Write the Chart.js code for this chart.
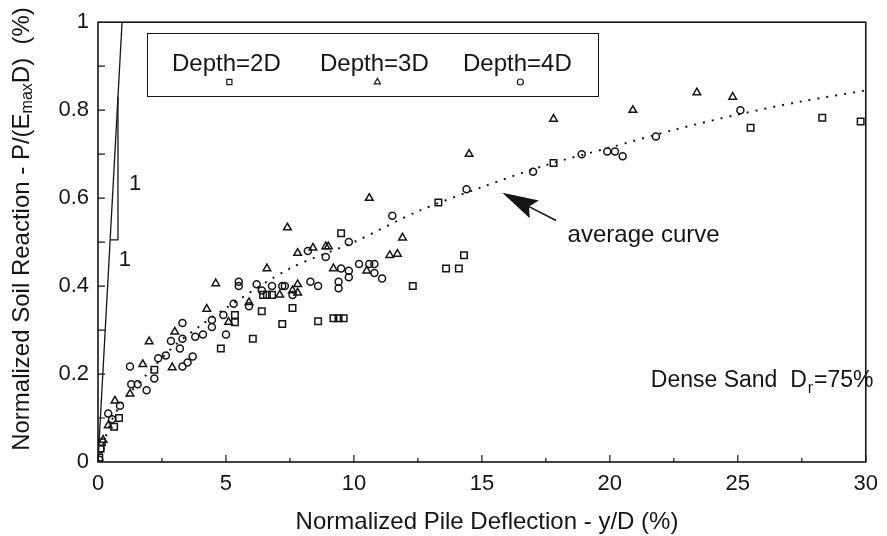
<!DOCTYPE html>
<html>
<head>
<meta charset="utf-8">
<script src="https://cdn.jsdelivr.net/npm/chart.js@4.4.0/dist/chart.umd.min.js"></script>
<style>
  body { margin: 0; background: #fff; }
  #wrap { width: 887px; height: 536px; }
</style>
</head>
<body>
<div id="wrap"><canvas id="soilChart"></canvas></div>
<script>
// tick labels
const xTicks = [0, 5, 10, 15, 20, 25, 30];
const yTicks = [0, 0.2, 0.4, 0.6, 0.8, 1];

// measured points, [y/D %, P/(Emax D) %]
const depth2D = [
  [0.05, 0.01], [0.1, 0.03], [0.15, 0.045], [0.63, 0.08], [0.82, 0.10], [2.2, 0.21],
  [4.8, 0.258], [5.35, 0.318], [5.35, 0.334], [6.05, 0.28], [6.45, 0.38], [6.6, 0.38],
  [6.8, 0.38], [6.4, 0.343], [7.2, 0.314], [7.6, 0.35], [8.6, 0.32], [9.2, 0.327],
  [9.4, 0.327], [9.6, 0.327], [9.5, 0.52], [12.3, 0.40], [13.6, 0.44], [14.1, 0.44],
  [14.3, 0.47], [13.3, 0.59], [17.8, 0.68], [25.5, 0.76], [28.3, 0.783], [29.8, 0.774]
];
const depth3D = [
  [0.2, 0.05], [0.4, 0.083], [0.66, 0.139], [1.25, 0.155], [1.75, 0.222], [2.0, 0.274],
  [2.9, 0.215], [3.0, 0.296], [4.25, 0.348], [4.6, 0.406], [5.1, 0.318], [5.9, 0.363],
  [6.6, 0.44], [7.1, 0.38], [7.4, 0.533], [7.6, 0.39], [7.8, 0.385], [7.8, 0.404],
  [7.8, 0.475], [8.4, 0.487], [8.9, 0.49], [9.0, 0.49], [9.2, 0.44], [10.5, 0.435],
  [10.6, 0.60], [11.4, 0.47], [11.7, 0.473], [11.9, 0.51], [14.5, 0.70], [17.8, 0.78],
  [20.9, 0.80], [23.4, 0.84], [24.8, 0.83]
];
const depth4D = [
  [0.05, 0.005], [0.1, 0.03], [0.4, 0.11], [0.55, 0.097], [0.86, 0.128], [1.25, 0.217],
  [1.3, 0.177], [1.55, 0.177], [1.9, 0.163], [2.2, 0.19], [2.35, 0.236], [2.65, 0.242],
  [2.85, 0.275], [3.2, 0.258], [3.3, 0.28], [3.3, 0.316], [3.3, 0.217], [3.5, 0.226],
  [3.7, 0.24], [3.8, 0.285], [4.1, 0.29], [4.45, 0.307], [4.45, 0.323], [4.9, 0.334],
  [5.0, 0.29], [5.3, 0.36], [5.5, 0.40], [5.5, 0.41], [5.9, 0.354], [6.2, 0.404],
  [6.4, 0.39], [6.8, 0.40], [7.2, 0.40], [7.3, 0.40], [7.6, 0.38], [8.2, 0.48],
  [8.3, 0.41], [8.6, 0.40], [8.9, 0.466], [9.4, 0.395], [9.4, 0.41], [9.5, 0.44],
  [9.8, 0.42], [9.8, 0.435], [9.8, 0.50], [10.2, 0.45], [10.6, 0.45], [10.8, 0.43],
  [10.8, 0.45], [11.1, 0.417], [11.5, 0.56], [14.4, 0.62], [17.0, 0.66], [18.9, 0.70],
  [19.9, 0.706], [20.2, 0.706], [20.5, 0.695], [21.8, 0.74], [25.1, 0.80]
];
const averageCurve = [
  [0, 0], [0.5, 0.09], [1, 0.14], [2, 0.205], [3, 0.265], [4, 0.31], [5, 0.35],
  [7.5, 0.44], [10, 0.50], [12.5, 0.57], [15, 0.625], [17.5, 0.675], [20, 0.715],
  [22.5, 0.755], [25, 0.79], [27.5, 0.82], [30, 0.845]
];
// initial stiffness line and its slope triangle
const slopeLine = [[0, 0], [0.94, 1]];
const slopeTriangle = [[0.475, 0.505], [0.78, 0.505], [0.78, 0.83]];

const FONT = '"Liberation Sans", Arial, Helvetica, sans-serif';
const INK = '#151515';

const toPoints = pairs => pairs.map(([x, y]) => ({ x, y }));

function drawRich(ctx, parts, cx, cy, angle) {
  let total = 0;
  parts.forEach(p => {
    ctx.font = p.size + 'px ' + FONT;
    p.w = ctx.measureText(p.t).width;
    total += p.w;
  });
  ctx.save();
  ctx.translate(cx, cy);
  ctx.rotate(angle || 0);
  ctx.textAlign = 'left';
  ctx.textBaseline = 'middle';
  let x = -total / 2;
  parts.forEach(p => {
    ctx.font = p.size + 'px ' + FONT;
    ctx.fillText(p.t, x, p.dy || 0);
    x += p.w;
  });
  ctx.restore();
}

const decorations = {
  id: 'decorations',
  afterDatasetsDraw(chart) {
    const { ctx, chartArea: a, scales: { x, y } } = chart;
    ctx.save();
    ctx.strokeStyle = INK;
    ctx.fillStyle = INK;

    // frame
    ctx.lineWidth = 1.6;
    ctx.strokeRect(a.left, a.top, a.right - a.left, a.bottom - a.top);

    // inward ticks
    ctx.lineWidth = 1.2;
    ctx.beginPath();
    for (let v = 0; v <= 30; v += 2.5) {
      const px = x.getPixelForValue(v);
      const len = v % 5 === 0 ? 7 : 4;
      ctx.moveTo(px, a.bottom);
      ctx.lineTo(px, a.bottom - len);
    }
    for (let i = 1; i < 10; i++) {
      const py = y.getPixelForValue(i / 10);
      ctx.moveTo(a.left, py);
      ctx.lineTo(a.left + 7, py);
    }
    ctx.stroke();

    // axis titles
    drawRich(ctx, [{ t: 'Normalized Pile Deflection - y/D (%)', size: 24 }], 487, 522, 0);
    drawRich(ctx, [
      { t: 'Normalized Soil Reaction - P/(E', size: 24 },
      { t: 'max', size: 16, dy: 6 },
      { t: 'D)  (%)', size: 24 }
    ], 22, 229, -Math.PI / 2);

    // legend box
    ctx.lineWidth = 1;
    ctx.strokeRect(147.5, 33.5, 451, 63);
    ctx.textBaseline = 'alphabetic';
    ctx.textAlign = 'left';
    const items = [
      { label: 'Depth=2D', left: 172, style: 'rect', r: 3.6 },
      { label: 'Depth=3D', left: 320, style: 'triangle', r: 3.6 },
      { label: 'Depth=4D', left: 463, style: 'circle', r: 3 }
    ];
    items.forEach(it => {
      ctx.fillStyle = INK;
      ctx.font = '24px ' + FONT;
      ctx.fillText(it.label, it.left, 71);
      const mx = it.left + ctx.measureText('Dept').width + ctx.measureText('h').width / 2;
      ctx.fillStyle = 'rgba(0,0,0,0)';
      ctx.lineWidth = 1.2;
      Chart.helpers.drawPoint(ctx, { pointStyle: it.style, radius: it.r, borderWidth: 1.2, rotation: 0 }, mx, 82);
    });
    ctx.fillStyle = INK;

    // slope labels
    ctx.font = '22px ' + FONT;
    ctx.textAlign = 'center';
    ctx.textBaseline = 'middle';
    ctx.fillText('1', x.getPixelForValue(1.45), y.getPixelForValue(0.632));
    ctx.fillText('1', x.getPixelForValue(1.05), y.getPixelForValue(0.46));

    // average curve annotation with arrow
    const tip = { x: x.getPixelForValue(15.8), y: y.getPixelForValue(0.612) };
    const tail = { x: x.getPixelForValue(17.9), y: y.getPixelForValue(0.549) };
    const dx = tip.x - tail.x, dy = tip.y - tail.y;
    const len = Math.hypot(dx, dy), ux = dx / len, uy = dy / len;
    const headLen = 36, headHalf = 10;
    const bx = tip.x - ux * headLen, by = tip.y - uy * headLen;
    ctx.lineWidth = 1.6;
    ctx.beginPath();
    ctx.moveTo(tail.x, tail.y);
    ctx.lineTo(bx + ux * 6, by + uy * 6);
    ctx.stroke();
    ctx.beginPath();
    ctx.moveTo(tip.x, tip.y);
    ctx.lineTo(bx - uy * headHalf, by + ux * headHalf);
    ctx.lineTo(bx + ux * 6, by + uy * 6);
    ctx.lineTo(bx + uy * headHalf, by - ux * headHalf);
    ctx.closePath();
    ctx.fill();

    ctx.font = '24px ' + FONT;
    ctx.textAlign = 'left';
    ctx.textBaseline = 'alphabetic';
    ctx.fillText('average curve', x.getPixelForValue(18.35), y.getPixelForValue(0.5));

    // soil description
    const sx = x.getPixelForValue(21.6), sy = y.getPixelForValue(0.17);
    ctx.font = '23px ' + FONT;
    ctx.fillText('Dense Sand  D', sx, sy);
    let w = ctx.measureText('Dense Sand  D').width;
    ctx.font = '16px ' + FONT;
    ctx.fillText('r', sx + w + 1, sy + 6);
    w += ctx.measureText('r').width + 2;
    ctx.font = '23px ' + FONT;
    ctx.fillText('=75%', sx + w, sy);

    ctx.restore();
  }
};

const ctx = document.getElementById('soilChart').getContext('2d');
new Chart(ctx, {
  type: 'scatter',
  data: {
    datasets: [
      {
        label: 'Depth=2D',
        data: toPoints(depth2D),
        pointStyle: 'rect',
        pointRadius: 4.6,
        pointBorderWidth: 1.5,
        pointBorderColor: INK,
        pointBackgroundColor: 'rgba(0,0,0,0)'
      },
      {
        label: 'Depth=3D',
        data: toPoints(depth3D),
        pointStyle: 'triangle',
        pointRadius: 4.4,
        pointBorderWidth: 1.5,
        pointBorderColor: INK,
        pointBackgroundColor: 'rgba(0,0,0,0)'
      },
      {
        label: 'Depth=4D',
        data: toPoints(depth4D),
        pointStyle: 'circle',
        pointRadius: 3.5,
        pointBorderWidth: 1.5,
        pointBorderColor: INK,
        pointBackgroundColor: 'rgba(0,0,0,0)'
      },
      {
        label: 'average curve',
        data: toPoints(averageCurve),
        showLine: true,
        tension: 0.3,
        pointRadius: 0,
        borderColor: INK,
        borderWidth: 2,
        borderDash: [2, 7]
      },
      {
        label: 'slope',
        data: toPoints(slopeLine),
        showLine: true,
        pointRadius: 0,
        borderColor: INK,
        borderWidth: 1.3
      },
      {
        label: 'slope triangle',
        data: toPoints(slopeTriangle),
        showLine: true,
        pointRadius: 0,
        borderColor: INK,
        borderWidth: 1.3
      }
    ]
  },
  options: {
    responsive: true,
    maintainAspectRatio: false,
    animation: false,
    layout: { padding: { top: 16, right: 21, left: 0, bottom: 0 } },
    plugins: {
      legend: { display: false },
      tooltip: { enabled: false }
    },
    scales: {
      x: {
        type: 'linear',
        min: 0,
        max: 30,
        afterFit: scale => { scale.height = 74; },
        afterBuildTicks: scale => { scale.ticks = xTicks.map(v => ({ value: v })); },
        grid: { display: false, drawTicks: false },
        border: { display: false },
        ticks: {
          color: INK,
          padding: 9,
          font: { family: FONT, size: 22 }
        }
      },
      y: {
        type: 'linear',
        min: 0,
        max: 1,
        afterFit: scale => { scale.width = 98; },
        afterBuildTicks: scale => { scale.ticks = yTicks.map(v => ({ value: v })); },
        grid: { display: false, drawTicks: false },
        border: { display: false },
        ticks: {
          color: INK,
          padding: 9,
          font: { family: FONT, size: 22 },
          callback: v => String(Number(v.toFixed(1)))
        }
      }
    }
  },
  plugins: [decorations]
});
</script>
</body>
</html>
